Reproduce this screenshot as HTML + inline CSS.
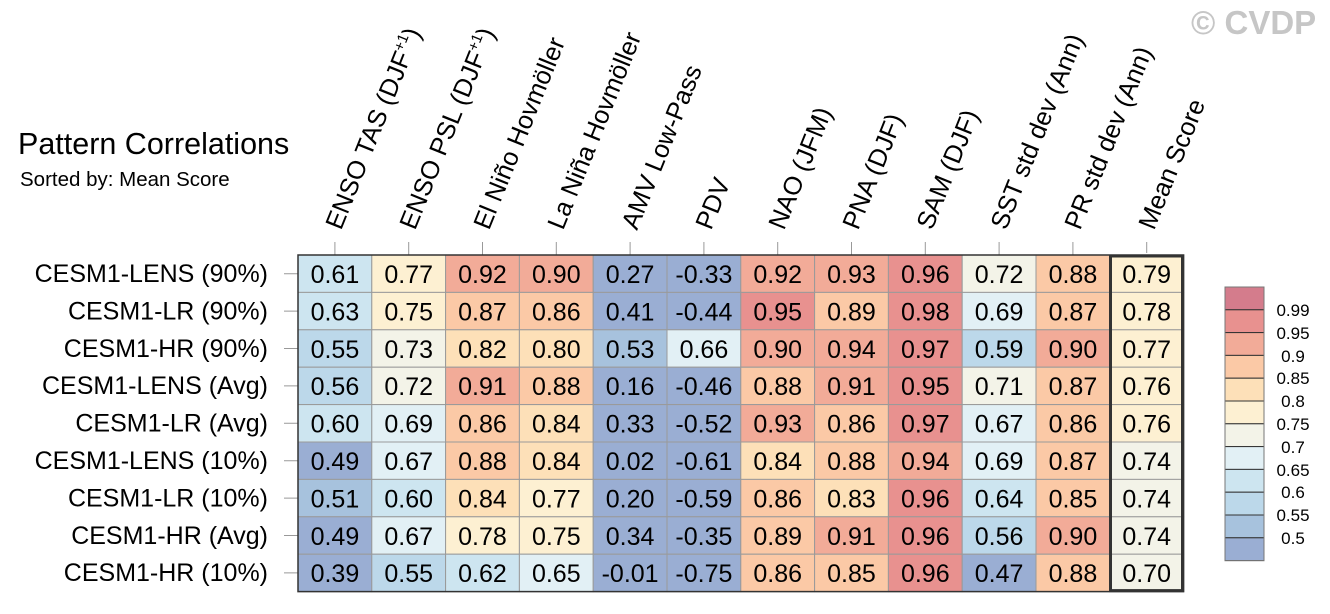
<!DOCTYPE html><html><head><meta charset="utf-8"><style>body{margin:0;background:#fff}svg{display:block;font-family:"Liberation Sans",sans-serif}</style></head><body>
<svg width="1330" height="614" viewBox="0 0 1330 614" xmlns="http://www.w3.org/2000/svg">
<style>.c rect{stroke:#9a9a9a;stroke-width:1}.c text{font-size:25px;text-anchor:middle;fill:#000}.rl{font-size:25px;text-anchor:end}.h{font-size:25.5px}.cb{font-size:17px;text-anchor:middle}</style>
<text x="1191" y="34" font-size="33" font-weight="bold" fill="#c6c6c6">© CVDP</text>
<text x="18" y="154" font-size="30.5">Pattern Correlations</text>
<text x="20" y="186" font-size="20.5">Sorted by: Mean Score</text>
<g class="h">
<text transform="translate(341,231) rotate(-68)">ENSO TAS (DJF<tspan font-size="15" dy="-10">+1</tspan><tspan dy="10">)</tspan></text>
<text transform="translate(415,231) rotate(-68)">ENSO PSL (DJF<tspan font-size="15" dy="-10">+1</tspan><tspan dy="10">)</tspan></text>
<text transform="translate(489,231) rotate(-68)">El Niño Hovmöller</text>
<text transform="translate(563,231) rotate(-68)">La Niña Hovmöller</text>
<text transform="translate(637,231) rotate(-68)">AMV Low-Pass</text>
<text transform="translate(711,231) rotate(-68)">PDV</text>
<text transform="translate(784,231) rotate(-68)">NAO (JFM)</text>
<text transform="translate(858,231) rotate(-68)">PNA (DJF)</text>
<text transform="translate(932,231) rotate(-68)">SAM (DJF)</text>
<text transform="translate(1006,231) rotate(-68)">SST std dev (Ann)</text>
<text transform="translate(1080,231) rotate(-68)">PR std dev (Ann)</text>
<text transform="translate(1154,231) rotate(-68)">Mean Score</text>
</g>
<g stroke="#999" stroke-width="1">
<path d="M334.9 242V255M408.7 242V255M482.5 242V255M556.3 242V255M630.1 242V255M703.9 242V255M777.7 242V255M851.5 242V255M925.3 242V255M999.1 242V255M1072.9 242V255M1146.7 242V253"/>
<path d="M284 273.7H298M284 311.1H298M284 348.5H298M284 385.9H298M284 423.3H298M284 460.7H298M284 498.1H298M284 535.5H298M284 572.9H298"/>
</g>
<g class="rl">
<text x="268" y="282">CESM1-LENS (90%)</text>
<text x="268" y="319.4">CESM1-LR (90%)</text>
<text x="268" y="356.8">CESM1-HR (90%)</text>
<text x="268" y="394.2">CESM1-LENS (Avg)</text>
<text x="268" y="431.6">CESM1-LR (Avg)</text>
<text x="268" y="469">CESM1-LENS (10%)</text>
<text x="268" y="506.4">CESM1-LR (10%)</text>
<text x="268" y="543.8">CESM1-HR (Avg)</text>
<text x="268" y="581.2">CESM1-HR (10%)</text>
</g>
<g class="c">
<g transform="translate(0,255)">
<rect x="298" width="73.8" height="37.4" fill="#cde5f0"/><rect x="371.8" width="73.8" height="37.4" fill="#fdf0d2"/><rect x="445.6" width="73.8" height="37.4" fill="#f2ab98"/><rect x="519.4" width="73.8" height="37.4" fill="#f2ab98"/><rect x="593.2" width="73.8" height="37.4" fill="#9aaed3"/><rect x="667" width="73.8" height="37.4" fill="#9aaed3"/><rect x="740.8" width="73.8" height="37.4" fill="#f2ab98"/><rect x="814.6" width="73.8" height="37.4" fill="#f2ab98"/><rect x="888.4" width="73.8" height="37.4" fill="#e8918f"/><rect x="962.2" width="73.8" height="37.4" fill="#f3f3e8"/><rect x="1036" width="73.8" height="37.4" fill="#fbc9a6"/><rect x="1109.8" width="73.8" height="37.4" fill="#fdf0d2"/>
<text x="334.9" y="28">0.61</text><text x="408.7" y="28">0.77</text><text x="482.5" y="28">0.92</text><text x="556.3" y="28">0.90</text><text x="630.1" y="28">0.27</text><text x="703.9" y="28">-0.33</text><text x="777.7" y="28">0.92</text><text x="851.5" y="28">0.93</text><text x="925.3" y="28">0.96</text><text x="999.1" y="28">0.72</text><text x="1072.9" y="28">0.88</text><text x="1146.7" y="28">0.79</text></g>
<g transform="translate(0,292.4)">
<rect x="298" width="73.8" height="37.4" fill="#cde5f0"/><rect x="371.8" width="73.8" height="37.4" fill="#fdf0d2"/><rect x="445.6" width="73.8" height="37.4" fill="#fbc9a6"/><rect x="519.4" width="73.8" height="37.4" fill="#fbc9a6"/><rect x="593.2" width="73.8" height="37.4" fill="#9aaed3"/><rect x="667" width="73.8" height="37.4" fill="#9aaed3"/><rect x="740.8" width="73.8" height="37.4" fill="#e8918f"/><rect x="814.6" width="73.8" height="37.4" fill="#fbc9a6"/><rect x="888.4" width="73.8" height="37.4" fill="#e8918f"/><rect x="962.2" width="73.8" height="37.4" fill="#e2f0f5"/><rect x="1036" width="73.8" height="37.4" fill="#fbc9a6"/><rect x="1109.8" width="73.8" height="37.4" fill="#fdf0d2"/>
<text x="334.9" y="28">0.63</text><text x="408.7" y="28">0.75</text><text x="482.5" y="28">0.87</text><text x="556.3" y="28">0.86</text><text x="630.1" y="28">0.41</text><text x="703.9" y="28">-0.44</text><text x="777.7" y="28">0.95</text><text x="851.5" y="28">0.89</text><text x="925.3" y="28">0.98</text><text x="999.1" y="28">0.69</text><text x="1072.9" y="28">0.87</text><text x="1146.7" y="28">0.78</text></g>
<g transform="translate(0,329.8)">
<rect x="298" width="73.8" height="37.4" fill="#bcd8ea"/><rect x="371.8" width="73.8" height="37.4" fill="#f3f3e8"/><rect x="445.6" width="73.8" height="37.4" fill="#fde0b8"/><rect x="519.4" width="73.8" height="37.4" fill="#fde0b8"/><rect x="593.2" width="73.8" height="37.4" fill="#a7c2dd"/><rect x="667" width="73.8" height="37.4" fill="#e2f0f5"/><rect x="740.8" width="73.8" height="37.4" fill="#f2ab98"/><rect x="814.6" width="73.8" height="37.4" fill="#f2ab98"/><rect x="888.4" width="73.8" height="37.4" fill="#e8918f"/><rect x="962.2" width="73.8" height="37.4" fill="#bcd8ea"/><rect x="1036" width="73.8" height="37.4" fill="#f2ab98"/><rect x="1109.8" width="73.8" height="37.4" fill="#fdf0d2"/>
<text x="334.9" y="28">0.55</text><text x="408.7" y="28">0.73</text><text x="482.5" y="28">0.82</text><text x="556.3" y="28">0.80</text><text x="630.1" y="28">0.53</text><text x="703.9" y="28">0.66</text><text x="777.7" y="28">0.90</text><text x="851.5" y="28">0.94</text><text x="925.3" y="28">0.97</text><text x="999.1" y="28">0.59</text><text x="1072.9" y="28">0.90</text><text x="1146.7" y="28">0.77</text></g>
<g transform="translate(0,367.2)">
<rect x="298" width="73.8" height="37.4" fill="#bcd8ea"/><rect x="371.8" width="73.8" height="37.4" fill="#f3f3e8"/><rect x="445.6" width="73.8" height="37.4" fill="#f2ab98"/><rect x="519.4" width="73.8" height="37.4" fill="#fbc9a6"/><rect x="593.2" width="73.8" height="37.4" fill="#9aaed3"/><rect x="667" width="73.8" height="37.4" fill="#9aaed3"/><rect x="740.8" width="73.8" height="37.4" fill="#fbc9a6"/><rect x="814.6" width="73.8" height="37.4" fill="#f2ab98"/><rect x="888.4" width="73.8" height="37.4" fill="#e8918f"/><rect x="962.2" width="73.8" height="37.4" fill="#f3f3e8"/><rect x="1036" width="73.8" height="37.4" fill="#fbc9a6"/><rect x="1109.8" width="73.8" height="37.4" fill="#fdf0d2"/>
<text x="334.9" y="28">0.56</text><text x="408.7" y="28">0.72</text><text x="482.5" y="28">0.91</text><text x="556.3" y="28">0.88</text><text x="630.1" y="28">0.16</text><text x="703.9" y="28">-0.46</text><text x="777.7" y="28">0.88</text><text x="851.5" y="28">0.91</text><text x="925.3" y="28">0.95</text><text x="999.1" y="28">0.71</text><text x="1072.9" y="28">0.87</text><text x="1146.7" y="28">0.76</text></g>
<g transform="translate(0,404.6)">
<rect x="298" width="73.8" height="37.4" fill="#cde5f0"/><rect x="371.8" width="73.8" height="37.4" fill="#e2f0f5"/><rect x="445.6" width="73.8" height="37.4" fill="#fbc9a6"/><rect x="519.4" width="73.8" height="37.4" fill="#fde0b8"/><rect x="593.2" width="73.8" height="37.4" fill="#9aaed3"/><rect x="667" width="73.8" height="37.4" fill="#9aaed3"/><rect x="740.8" width="73.8" height="37.4" fill="#f2ab98"/><rect x="814.6" width="73.8" height="37.4" fill="#fbc9a6"/><rect x="888.4" width="73.8" height="37.4" fill="#e8918f"/><rect x="962.2" width="73.8" height="37.4" fill="#e2f0f5"/><rect x="1036" width="73.8" height="37.4" fill="#fbc9a6"/><rect x="1109.8" width="73.8" height="37.4" fill="#fdf0d2"/>
<text x="334.9" y="28">0.60</text><text x="408.7" y="28">0.69</text><text x="482.5" y="28">0.86</text><text x="556.3" y="28">0.84</text><text x="630.1" y="28">0.33</text><text x="703.9" y="28">-0.52</text><text x="777.7" y="28">0.93</text><text x="851.5" y="28">0.86</text><text x="925.3" y="28">0.97</text><text x="999.1" y="28">0.67</text><text x="1072.9" y="28">0.86</text><text x="1146.7" y="28">0.76</text></g>
<g transform="translate(0,442)">
<rect x="298" width="73.8" height="37.4" fill="#9aaed3"/><rect x="371.8" width="73.8" height="37.4" fill="#e2f0f5"/><rect x="445.6" width="73.8" height="37.4" fill="#fbc9a6"/><rect x="519.4" width="73.8" height="37.4" fill="#fde0b8"/><rect x="593.2" width="73.8" height="37.4" fill="#9aaed3"/><rect x="667" width="73.8" height="37.4" fill="#9aaed3"/><rect x="740.8" width="73.8" height="37.4" fill="#fde0b8"/><rect x="814.6" width="73.8" height="37.4" fill="#fbc9a6"/><rect x="888.4" width="73.8" height="37.4" fill="#f2ab98"/><rect x="962.2" width="73.8" height="37.4" fill="#e2f0f5"/><rect x="1036" width="73.8" height="37.4" fill="#fbc9a6"/><rect x="1109.8" width="73.8" height="37.4" fill="#f3f3e8"/>
<text x="334.9" y="28">0.49</text><text x="408.7" y="28">0.67</text><text x="482.5" y="28">0.88</text><text x="556.3" y="28">0.84</text><text x="630.1" y="28">0.02</text><text x="703.9" y="28">-0.61</text><text x="777.7" y="28">0.84</text><text x="851.5" y="28">0.88</text><text x="925.3" y="28">0.94</text><text x="999.1" y="28">0.69</text><text x="1072.9" y="28">0.87</text><text x="1146.7" y="28">0.74</text></g>
<g transform="translate(0,479.4)">
<rect x="298" width="73.8" height="37.4" fill="#a7c2dd"/><rect x="371.8" width="73.8" height="37.4" fill="#cde5f0"/><rect x="445.6" width="73.8" height="37.4" fill="#fde0b8"/><rect x="519.4" width="73.8" height="37.4" fill="#fdf0d2"/><rect x="593.2" width="73.8" height="37.4" fill="#9aaed3"/><rect x="667" width="73.8" height="37.4" fill="#9aaed3"/><rect x="740.8" width="73.8" height="37.4" fill="#fbc9a6"/><rect x="814.6" width="73.8" height="37.4" fill="#fde0b8"/><rect x="888.4" width="73.8" height="37.4" fill="#e8918f"/><rect x="962.2" width="73.8" height="37.4" fill="#cde5f0"/><rect x="1036" width="73.8" height="37.4" fill="#fbc9a6"/><rect x="1109.8" width="73.8" height="37.4" fill="#f3f3e8"/>
<text x="334.9" y="28">0.51</text><text x="408.7" y="28">0.60</text><text x="482.5" y="28">0.84</text><text x="556.3" y="28">0.77</text><text x="630.1" y="28">0.20</text><text x="703.9" y="28">-0.59</text><text x="777.7" y="28">0.86</text><text x="851.5" y="28">0.83</text><text x="925.3" y="28">0.96</text><text x="999.1" y="28">0.64</text><text x="1072.9" y="28">0.85</text><text x="1146.7" y="28">0.74</text></g>
<g transform="translate(0,516.8)">
<rect x="298" width="73.8" height="37.4" fill="#9aaed3"/><rect x="371.8" width="73.8" height="37.4" fill="#e2f0f5"/><rect x="445.6" width="73.8" height="37.4" fill="#fdf0d2"/><rect x="519.4" width="73.8" height="37.4" fill="#fdf0d2"/><rect x="593.2" width="73.8" height="37.4" fill="#9aaed3"/><rect x="667" width="73.8" height="37.4" fill="#9aaed3"/><rect x="740.8" width="73.8" height="37.4" fill="#fbc9a6"/><rect x="814.6" width="73.8" height="37.4" fill="#f2ab98"/><rect x="888.4" width="73.8" height="37.4" fill="#e8918f"/><rect x="962.2" width="73.8" height="37.4" fill="#bcd8ea"/><rect x="1036" width="73.8" height="37.4" fill="#f2ab98"/><rect x="1109.8" width="73.8" height="37.4" fill="#f3f3e8"/>
<text x="334.9" y="28">0.49</text><text x="408.7" y="28">0.67</text><text x="482.5" y="28">0.78</text><text x="556.3" y="28">0.75</text><text x="630.1" y="28">0.34</text><text x="703.9" y="28">-0.35</text><text x="777.7" y="28">0.89</text><text x="851.5" y="28">0.91</text><text x="925.3" y="28">0.96</text><text x="999.1" y="28">0.56</text><text x="1072.9" y="28">0.90</text><text x="1146.7" y="28">0.74</text></g>
<g transform="translate(0,554.2)">
<rect x="298" width="73.8" height="37.4" fill="#9aaed3"/><rect x="371.8" width="73.8" height="37.4" fill="#bcd8ea"/><rect x="445.6" width="73.8" height="37.4" fill="#cde5f0"/><rect x="519.4" width="73.8" height="37.4" fill="#e2f0f5"/><rect x="593.2" width="73.8" height="37.4" fill="#9aaed3"/><rect x="667" width="73.8" height="37.4" fill="#9aaed3"/><rect x="740.8" width="73.8" height="37.4" fill="#fbc9a6"/><rect x="814.6" width="73.8" height="37.4" fill="#fbc9a6"/><rect x="888.4" width="73.8" height="37.4" fill="#e8918f"/><rect x="962.2" width="73.8" height="37.4" fill="#9aaed3"/><rect x="1036" width="73.8" height="37.4" fill="#fbc9a6"/><rect x="1109.8" width="73.8" height="37.4" fill="#f3f3e8"/>
<text x="334.9" y="28">0.39</text><text x="408.7" y="28">0.55</text><text x="482.5" y="28">0.62</text><text x="556.3" y="28">0.65</text><text x="630.1" y="28">-0.01</text><text x="703.9" y="28">-0.75</text><text x="777.7" y="28">0.86</text><text x="851.5" y="28">0.85</text><text x="925.3" y="28">0.96</text><text x="999.1" y="28">0.47</text><text x="1072.9" y="28">0.88</text><text x="1146.7" y="28">0.70</text></g>
</g>
<rect x="298" y="255" width="885.6" height="336.6" fill="none" stroke="#333" stroke-width="1.5"/>
<rect x="1110.5" y="256" width="72" height="334.6" fill="none" stroke="#333" stroke-width="3"/>
<g stroke="#333" stroke-width="1">
<rect x="1225" y="287" width="39" height="22.8" fill="#d47c8c"/><rect x="1225" y="309.8" width="39" height="22.8" fill="#e8918f"/><rect x="1225" y="332.6" width="39" height="22.8" fill="#f2ab98"/><rect x="1225" y="355.4" width="39" height="22.8" fill="#fbc9a6"/><rect x="1225" y="378.2" width="39" height="22.8" fill="#fde0b8"/><rect x="1225" y="401" width="39" height="22.8" fill="#fdf0d2"/><rect x="1225" y="423.8" width="39" height="22.8" fill="#f3f3e8"/><rect x="1225" y="446.6" width="39" height="22.8" fill="#e2f0f5"/><rect x="1225" y="469.4" width="39" height="22.8" fill="#cde5f0"/><rect x="1225" y="492.2" width="39" height="22.8" fill="#bcd8ea"/><rect x="1225" y="515" width="39" height="22.8" fill="#a7c2dd"/><rect x="1225" y="537.8" width="39" height="22.8" fill="#9aaed3"/>
</g>
<rect x="1225" y="287" width="39" height="273.6" fill="none" stroke="#777" stroke-width="1"/>
<g class="cb">
<text x="1293" y="316">0.99</text><text x="1293" y="339">0.95</text><text x="1293" y="362">0.9</text><text x="1293" y="384">0.85</text><text x="1293" y="407">0.8</text><text x="1293" y="430">0.75</text><text x="1293" y="453">0.7</text><text x="1293" y="476">0.65</text><text x="1293" y="498">0.6</text><text x="1293" y="521">0.55</text><text x="1293" y="544">0.5</text>
</g>
</svg>
</body></html>
